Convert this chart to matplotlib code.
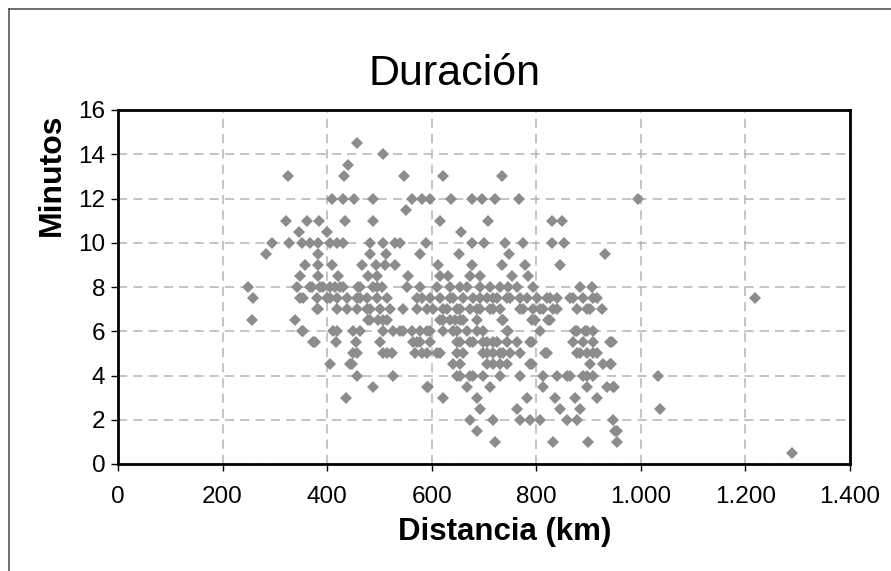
import matplotlib
matplotlib.use("Agg")
import matplotlib.pyplot as plt
from matplotlib.lines import Line2D

# ---- data ----
distancia_km = [
    458,
    506,
    439,
    326, 433, 547, 622, 734,
    410, 431, 452, 488, 563, 581, 597, 637, 677, 696, 721, 767, 995,
    550,
    321, 362, 385, 434, 488, 616, 708, 830, 849,
    346, 399, 656,
    295, 327, 351, 367, 383, 405, 418, 431, 482, 507, 530, 539, 590, 677, 700, 740, 775, 830, 853,
    284, 383, 482, 513, 578, 652, 748, 931,
    358, 383, 409, 466, 494, 510, 530, 612, 677, 734, 778, 845,
    348, 383, 421, 478, 495, 555, 616, 631, 673, 692, 753, 784,
    249, 342, 371, 392, 415, 430, 459, 495, 553, 578, 610, 635, 654, 667, 692, 711, 730, 746, 763, 794, 884, 906,
    367, 386, 405, 425, 463, 488, 505,
    259, 348, 380, 405, 418, 438, 457, 476, 495, 514, 581, 597, 616, 641, 660, 679, 706, 725, 744, 769, 801, 820, 840, 870, 889, 908, 1218,
    354, 399, 463, 572, 635, 692, 717, 750, 782, 826, 864, 916,
    382, 418, 438, 457, 482, 501, 520, 545, 572, 591, 622, 654, 673, 692, 711, 730, 769, 794, 813, 832, 878, 897, 926,
    380, 476, 602, 629, 648, 687, 717, 775, 807, 840, 903,
    256, 339, 478, 497, 514, 616, 635, 660, 687, 734, 797, 822, 482, 507, 622, 645, 654, 736, 792, 826,
    351, 418, 449, 507, 526, 539, 562, 578, 597, 622, 648, 667, 687, 744, 807, 874, 893, 908, 354, 411, 463, 545, 591, 641, 698, 746, 878, 897,
    377, 417, 455, 501, 564, 578, 654, 679, 698, 717, 744, 763, 792, 870, 941, 373, 572, 597, 648, 673, 706, 725, 788, 889, 908, 944,
    457, 507, 524, 568, 581, 591, 616, 660, 706, 730, 750, 769, 817, 878, 897, 916, 449, 514, 610, 648, 698, 717, 736, 820, 884, 908,
    405, 447, 641, 706, 730, 788, 903, 941, 443, 654, 717, 744, 792, 928, 943,
    457, 526, 654, 679, 698, 730, 769, 813, 840, 859, 889, 908, 648, 673, 864, 897, 1033,
    488, 591, 593, 667, 711, 813, 897, 935, 947, 949,
    436, 622, 687, 782, 836, 874, 916,
    692, 763, 845, 884, 1036,
    673, 717, 769, 788, 807, 859, 878, 946,
    687, 950, 954,
    721, 832, 899, 954,
    1290,
]
minutos = (
    [14.5] * 1 + [14.0] * 1 + [13.5] * 1 + [13.0] * 5 + [12.0] * 13 + [11.5] * 1
    + [11.0] * 9 + [10.5] * 3 + [10.0] * 19 + [9.5] * 8 + [9.0] * 12 + [8.5] * 12
    + [8.0] * 22 + [8.0] * 7 + [7.5] * 27 + [7.5] * 12 + [7.0] * 23 + [7.0] * 11
    + [6.5] * 20 + [6.0] * 28 + [5.5] * 26 + [5.0] * 26 + [4.5] * 15 + [4.0] * 17
    + [3.5] * 10 + [3.0] * 7 + [2.5] * 5 + [2.0] * 8 + [1.5] * 3 + [1.0] * 4 + [0.5] * 1
)
x_ticks = [0, 200, 400, 600, 800, 1000, 1200, 1400]
x_tick_labels = ["0", "200", "400", "600", "800", "1.000", "1.200", "1.400"]
y_ticks = [0, 2, 4, 6, 8, 10, 12, 14, 16]
titulo = "Duración"
x_label = "Distancia (km)"
y_label = "Minutos"

n = min(len(distancia_km), len(minutos))

plt.rcParams["font.family"] = ["Liberation Sans", "DejaVu Sans"]

W, H = 891, 571
fig = plt.figure(figsize=(W / 100, H / 100), dpi=100)
fig.patch.set_facecolor("white")

# outer chart border (left and top visible)
fig.add_artist(Line2D([8.5 / W, 8.5 / W], [1 - 8.5 / H, 0], color="#555555", lw=1.2))
fig.add_artist(Line2D([8.5 / W, 1], [1 - 8.5 / H, 1 - 8.5 / H], color="#555555", lw=1.2))

left, right, top, bottom = 118, 850, 110, 464
ax = fig.add_axes([left / W, 1 - bottom / H, (right - left) / W, (bottom - top) / H])

ax.plot(distancia_km[:n], minutos[:n], linestyle="none", marker="D", ms=6.3,
        mew=0, color="#8c8c8c", zorder=3, clip_on=False)

ax.set_xlim(0, 1400)
ax.set_ylim(0, 16)
ax.set_xticks(x_ticks)
ax.set_xticklabels(x_tick_labels)
ax.set_yticks(y_ticks)

ax.grid(True, color="#b4b4b4", linestyle=(0, (6, 4)), linewidth=1.1, zorder=0)
ax.set_axisbelow(True)

for s in ax.spines.values():
    s.set_color("black")
    s.set_linewidth(2.0)
    s.set_zorder(4)

ax.tick_params(axis="both", direction="out", length=5, width=1, color="black",
               labelsize=17.5)
ax.tick_params(axis="x", pad=11)
ax.tick_params(axis="y", pad=4)

fig.text(454 / W, 1 - 74 / H, titulo, ha="center", va="center", fontsize=31)
fig.text(505 / W, 1 - 532 / H, x_label, ha="center", va="center", fontsize=22.5, fontweight="bold")
fig.text(52 / W, 1 - 175 / H, y_label, ha="center", va="center", rotation=90,
         fontsize=23, fontweight="bold")

fig.savefig("out.png", dpi=100)
